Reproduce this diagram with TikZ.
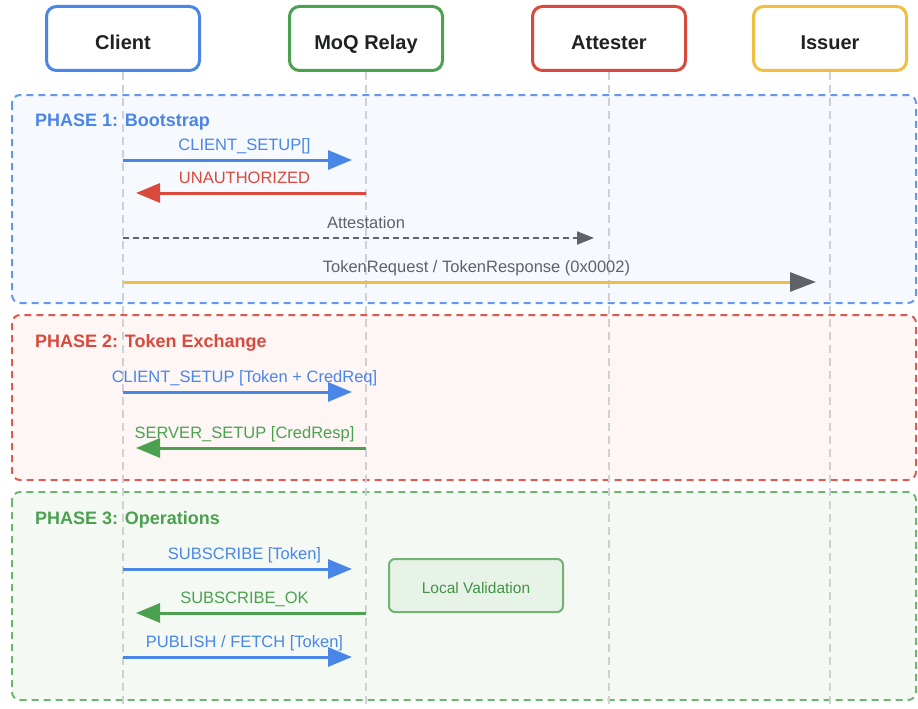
\documentclass[tikz,border=0pt]{standalone}
\usepackage{fontspec}
\setmainfont{Liberation Sans}
\usepackage{xcolor}
\usetikzlibrary{arrows.meta,positioning}
\definecolor{gblue}{HTML}{4A86E8}
\definecolor{gred}{HTML}{D9493C}
\definecolor{ggreen}{HTML}{4CA150}
\definecolor{gyellow}{HTML}{F1BE42}
\definecolor{ggray}{HTML}{5F6368}
\definecolor{ink}{HTML}{202124}
\definecolor{lifegray}{HTML}{CDD0D4}
\tikzset{
  actor/.style={draw, line width=3pt, rounded corners=10pt, fill=white,
                minimum width=153pt, minimum height=64pt, text=ink,
                font=\fontsize{20}{24}\selectfont\bfseries,
                text height=23pt, text depth=0pt},
  lifeline/.style={draw=lifegray, line width=1.5pt, dash pattern=on 8pt off 5pt},
  phasebox/.style={line width=2pt, dash pattern=on 7pt off 5pt, rounded corners=8pt},
  phasetag/.style={anchor=base west, inner sep=0pt,
                   font=\fontsize{18}{22}\selectfont\bfseries},
  msg/.style={line width=3pt, -{Triangle[length=24pt, width=19pt]}},
  msglabel/.style={midway, anchor=base, yshift=10pt, inner sep=0pt,
                   font=\fontsize{16.5}{19}\selectfont},
  checkbox/.style={draw=ggreen!80, line width=2pt, rounded corners=6pt,
                   fill=ggreen!13, text=ggreen!90!black, minimum width=174pt,
                   minimum height=53pt, font=\fontsize{15.5}{18}\selectfont,
                   text height=15pt, text depth=0pt},
}

\begin{document}
\begin{tikzpicture}[x=1pt, y=-1pt]
  \useasboundingbox (0,0) rectangle (918,709);

  % phases
  \draw[phasebox, draw=gblue!85, fill=gblue!5] (12,95) rectangle (916,303);
  \draw[phasebox, draw=gred!90, fill=gred!5] (12,315) rectangle (916,480);
  \draw[phasebox, draw=ggreen!80, fill=ggreen!6] (12,492) rectangle (916,700);
  \node[phasetag, text=gblue] (ph1) at (35,126) {PHASE 1: Bootstrap};
  \node[phasetag, text=gred] (ph2) at (35,347) {PHASE 2: Token Exchange};
  \node[phasetag, text=ggreen] (ph3) at (35,524) {PHASE 3: Operations};

  % participants
  \node[actor, draw=gblue] (client) at (123,38.5) {Client};
  \node[actor, draw=ggreen] (relay) at (366,38.5) {MoQ Relay};
  \node[actor, draw=gred] (attester) at (609,38.5) {Attester};
  \node[actor, draw=gyellow] (issuer) at (830,38.5) {Issuer};
  \coordinate (bottom) at (0,709);
  \foreach \p in {client,relay,attester,issuer}
    \draw[lifeline] (\p.south) -- (\p |- bottom);

  % message rows
  \coordinate (m1) at (0,160);
  \coordinate (m2) at (0,193);
  \coordinate (m3) at (0,238);
  \coordinate (m4) at (0,282);
  \coordinate (m5) at (0,392);
  \coordinate (m6) at (0,448);
  \coordinate (m7) at (0,569);
  \coordinate (m8) at (0,613);
  \coordinate (m9) at (0,657);

  \draw[msg, gblue, shorten >=14pt] (client |- m1) -- node[msglabel]{CLIENT\_SETUP[]} (relay |- m1);
  \draw[msg, gred, shorten >=13pt] (relay |- m2) -- node[msglabel]{UNAUTHORIZED} (client |- m2);
  \draw[ggray, line width=2pt, dash pattern=on 6pt off 4pt, -{Triangle[length=17pt, width=13pt]}, shorten >=15pt]
    (client |- m3) -- node[msglabel]{Attestation} (attester |- m3);
  \draw[line width=3pt, gyellow, -{Triangle[length=26pt, width=19pt, color=ggray]}, shorten >=14pt]
    (client |- m4) -- node[msglabel, text=ggray]{TokenRequest / TokenResponse (0x0002)} (issuer |- m4);

  \draw[msg, gblue, shorten >=14pt] (client |- m5) -- node[msglabel]{CLIENT\_SETUP [Token + CredReq]} (relay |- m5);
  \draw[msg, ggreen, shorten >=13pt] (relay |- m6) -- node[msglabel]{SERVER\_SETUP [CredResp]} (client |- m6);

  \draw[msg, gblue, shorten >=14pt] (client |- m7) -- node[msglabel]{SUBSCRIBE [Token]} (relay |- m7);
  \draw[msg, ggreen, shorten >=13pt] (relay |- m8) -- node[msglabel]{SUBSCRIBE\_OK} (client |- m8);
  \draw[msg, gblue, shorten >=14pt] (client |- m9) -- node[msglabel]{PUBLISH / FETCH [Token]} (relay |- m9);

  \node[checkbox] (validate) at (476,585.5) {Local Validation};
\end{tikzpicture}
\end{document}
